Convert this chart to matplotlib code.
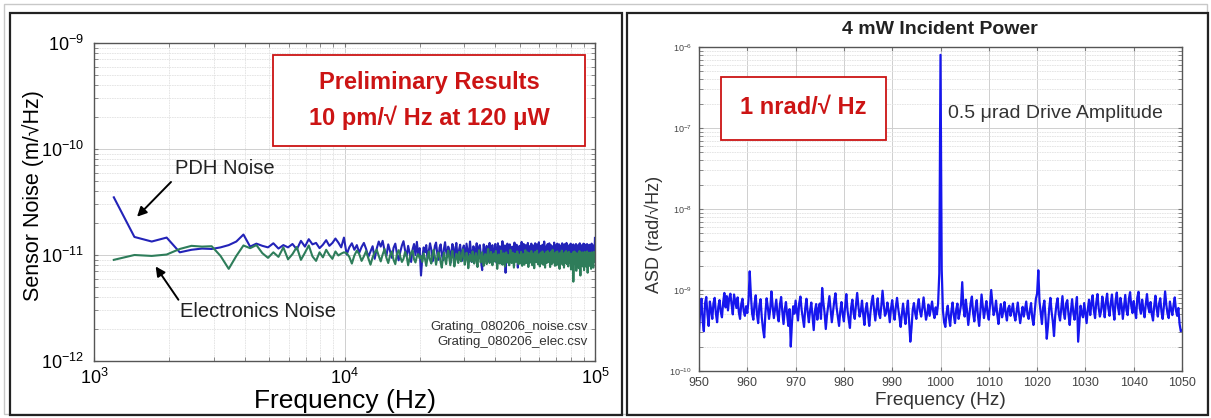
import numpy as np
import matplotlib
matplotlib.use('Agg')
from matplotlib import pyplot as plt
from matplotlib.patches import Rectangle
from matplotlib.ticker import LogLocator, FixedLocator, NullFormatter

plt.rcParams['font.family'] = ['Liberation Sans', 'DejaVu Sans']
plt.rcParams['mathtext.fontset'] = 'custom'
plt.rcParams['mathtext.rm'] = 'Liberation Sans'
plt.rcParams['mathtext.it'] = 'Liberation Sans:italic'
plt.rcParams['mathtext.bf'] = 'Liberation Sans:bold'

W, H = 1211, 418

# ---- left panel data: sensor noise in pm/rtHz on a 250 Hz bin grid ----
freq_left = np.arange(1200, 100000, 250)

pdh_noise_pm = [
    35.0, 14.8, 13.4, 14.6, 10.6, 11.2, 11.5, 11.4, 11.8, 12.4,
    13.4, 15.6, 12.0, 12.8, 12.2, 11.8, 12.9, 11.5, 12.4, 11.8,
    12.7, 11.3, 13.6, 12.0, 14.1, 12.6, 13.0, 11.6, 12.5, 13.8,
    12.2, 13.0, 14.3, 13.1, 11.8, 14.6,
    10.1, 11.8, 12.9, 11.2, 12.4, 10.5, 11.9, 13.0, 11.4, 9.6, 10.8, 12.1, 9.2, 11.5, 13.4, 12.0, 13.6, 11.0, 9.8, 12.6,
    10.9, 9.4, 11.7, 12.8, 10.2, 8.9, 10.7, 12.3, 13.5, 11.1, 9.7, 12.2, 10.4, 8.6, 11.3, 12.7, 10.0, 13.3, 9.9, 11.6,
    6.4, 9.5, 11.8, 10.6, 12.4, 9.2, 10.9, 12.9, 11.3, 8.7, 10.1, 12.2, 13.1, 10.4, 9.0, 11.7, 12.6, 10.2, 8.9, 11.5,
    13.2, 10.8, 9.6, 12.0, 11.1, 8.4, 10.5, 12.7, 11.9, 9.3, 10.7, 13.0, 10.3, 9.1, 11.4, 12.5, 10.0, 8.8, 11.6, 12.3,
    10.6, 9.4, 12.8, 11.2, 9.8, 10.9, 13.4, 11.0, 8.6, 10.4, 12.1, 11.5, 9.7, 10.8, 12.9, 10.1, 9.2, 11.9, 12.4, 10.5,
    8.1, 7.2, 10.2, 12.6, 11.0, 9.5, 10.7, 12.2, 9.9, 8.7, 11.3, 13.0, 10.6, 9.0, 11.8, 12.4, 10.3, 9.6, 11.1, 12.7,
    10.0, 8.5, 11.4, 12.9, 10.8, 9.3, 12.1, 11.6, 9.8, 10.5, 13.5, 11.2, 9.4, 10.9, 12.3, 6.8, 8.9, 11.7, 12.8, 10.2,
    9.7, 11.3, 12.6, 10.1, 8.8, 10.6, 12.0, 11.4, 9.2, 10.8, 13.1, 10.7, 9.5, 11.9, 12.5, 10.0, 7.6, 9.9, 11.6, 12.2,
    10.5, 9.1, 11.8, 13.3, 10.9, 9.6, 11.2, 12.7, 10.3, 8.6, 10.7, 12.4, 11.5, 9.4, 10.8, 13.0, 11.1, 9.8, 12.1, 10.6,
    9.0, 11.4, 12.8, 10.4, 9.3, 11.7, 12.3, 10.1, 8.9, 11.0, 12.9, 11.6, 9.7, 10.5, 12.6, 10.8, 9.2, 11.3, 13.2, 10.7,
    9.5, 10.9, 12.2, 11.1, 8.7, 10.3, 12.5, 11.8, 9.6, 10.6, 13.4, 11.2, 9.9, 10.4, 12.0, 11.5, 9.1, 10.7, 12.7, 10.2,
    8.8, 11.6, 12.9, 10.5, 9.4, 11.0, 12.4, 10.9, 9.0, 10.8, 12.1, 11.3, 9.7, 10.6, 13.1, 11.7, 9.3, 10.1, 12.3, 11.0,
    9.8, 10.7, 12.8, 11.4, 9.2, 10.3, 11.9, 12.6, 10.0, 8.9, 11.5, 12.2, 10.6, 9.5, 11.1, 12.9, 10.4, 9.6, 11.8, 12.5,
    10.2, 9.0, 11.3, 12.7, 10.8, 9.4, 10.9, 13.0, 11.6, 9.7, 10.5, 12.1, 11.2, 8.8, 10.6, 12.4, 11.0, 9.3, 11.7, 12.8,
    10.1, 9.5, 11.4, 12.3, 10.7, 9.1, 11.0, 12.6, 11.5, 9.8, 10.4, 12.0, 11.3, 9.6, 10.8, 12.7, 10.9, 9.2, 11.6, 12.2,
    10.3, 9.4, 11.9, 12.5, 10.6, 9.0, 11.2, 12.9, 10.0, 9.7, 11.1, 12.4, 10.5, 9.3, 11.8, 12.1, 10.2, 9.9, 11.5, 12.8,
    10.4, 9.2, 11.0, 12.6, 10.9, 9.6, 11.7, 12.3, 10.1, 9.5, 11.3, 12.7, 10.6, 9.1, 11.4, 12.0, 10.8, 9.8, 11.2, 12.5,
    10.0, 9.4, 11.6, 12.2, 10.7, 9.3, 11.9, 12.8, 10.3, 9.7, 11.1, 12.4, 10.5, 9.0, 11.5, 12.1, 10.9, 9.6, 12.0, 14.5,
]

elec_noise_pm = [
    9.0, 10.0, 9.8, 10.1, 11.4, 12.2, 12.0, 12.1, 9.8, 7.4,
    9.8, 12.3, 11.6, 12.4, 10.4, 9.4, 10.6, 9.6, 11.8, 9.1,
    10.2, 11.9, 9.0, 10.5, 12.3, 9.7, 8.8, 10.6, 9.5, 11.2,
    10.0, 9.2, 10.8, 9.9, 10.3, 10.6,
    10.4, 9.6, 8.3, 9.9, 11.0, 10.2, 8.8, 9.7, 10.9, 9.3, 8.1, 9.5, 10.6, 11.2, 9.8, 8.7, 10.1, 11.4, 9.4, 8.4,
    9.9, 10.8, 9.0, 8.2, 10.3, 11.1, 9.6, 8.6, 9.2, 10.7, 9.8, 8.0, 9.4, 10.5, 11.0, 9.1, 8.5, 9.7, 10.2, 9.3,
    9.8, 8.6, 10.4, 9.2, 7.9, 9.5, 10.8, 9.0, 8.3, 10.1, 11.2, 9.6, 8.1, 9.4, 10.6, 9.9, 8.5, 7.6, 9.3, 10.5,
    9.1, 8.2, 10.0, 11.0, 9.4, 8.0, 9.7, 10.9, 9.3, 7.8, 8.8, 10.3, 9.6, 8.4, 10.7, 9.2, 8.7, 10.2, 11.3, 9.5,
    8.1, 9.0, 10.5, 9.8, 7.5, 8.9, 10.1, 9.4, 8.6, 10.8, 9.7, 8.3, 9.2, 10.4, 9.0, 7.7, 9.6, 11.1, 9.9, 8.5,
    9.3, 10.6, 8.8, 7.9, 9.5, 10.2, 9.1, 8.2, 10.0, 11.4, 9.7, 8.4, 9.0, 10.7, 9.4, 8.0, 9.8, 10.3, 8.7, 9.6,
    10.9, 9.2, 7.4, 8.6, 10.1, 9.5, 8.3, 9.9, 11.0, 9.3, 8.1, 9.7, 10.4, 8.9, 7.8, 9.4, 10.6, 9.6, 8.5, 10.0,
    9.1, 8.0, 9.8, 11.2, 9.6, 8.4, 9.3, 10.5, 9.0, 7.6, 8.8, 10.3, 9.9, 8.6, 9.5, 10.8, 9.2, 8.2, 10.1, 9.7,
    8.3, 9.4, 10.7, 9.0, 7.9, 9.6, 10.2, 8.7, 8.1, 10.0, 11.1, 9.5, 8.4, 9.1, 10.6, 9.3, 7.7, 8.9, 10.4, 9.8,
    8.5, 9.7, 10.9, 9.2, 8.0, 9.4, 10.3, 8.8, 7.5, 9.0, 10.7, 9.9, 8.6, 9.5, 11.0, 9.3, 8.2, 9.8, 10.1, 8.9,
    7.8, 9.2, 10.5, 9.6, 8.3, 9.0, 10.8, 9.4, 8.1, 9.7, 10.2, 8.7, 7.6, 9.3, 10.6, 9.9, 8.4, 9.1, 10.9, 9.5,
    8.6, 9.8, 10.4, 8.9, 7.7, 9.2, 10.7, 9.6, 8.2, 9.4, 11.2, 9.7, 8.5, 9.0, 10.3, 9.1, 7.9, 9.5, 10.6, 9.3,
    8.0, 9.6, 10.8, 9.2, 8.3, 9.9, 10.1, 8.8, 7.4, 9.3, 10.5, 9.7, 8.6, 9.1, 11.0, 9.4, 8.1, 9.8, 10.2, 8.7,
    7.6, 9.0, 10.6, 9.5, 8.4, 9.3, 10.9, 9.8, 8.2, 8.9, 10.4, 9.2, 7.8, 9.6, 10.7, 9.0, 8.5, 9.4, 10.3, 9.1,
    7.3, 8.8, 10.2, 9.7, 8.0, 9.5, 10.6, 5.6, 7.9, 9.2, 10.8, 9.4, 8.3, 8.7, 10.5, 9.6, 7.1, 8.6, 10.0, 9.3,
    8.1, 9.7, 10.4, 8.9, 7.5, 9.0, 10.9, 9.5, 8.2, 6.4, 8.8, 10.3, 9.6, 8.4, 9.1, 10.6, 9.2, 7.8, 9.4, 10.1,
    8.7, 7.2, 9.3, 10.7, 9.0, 8.3, 9.8, 10.2, 8.6, 7.7, 9.5, 10.8, 9.1, 6.8, 8.5, 10.4, 9.7, 8.0, 9.2, 10.5,
    9.0, 7.9, 9.6, 10.3, 8.8, 7.4, 9.3, 10.6, 9.1, 8.2, 9.9, 10.1, 8.4, 7.6, 9.4, 10.7, 9.2, 8.6, 9.8, 10.0,
]

# ---- right panel data: angular ASD in 1e-10 rad/rtHz on a 0.25 Hz grid ----
freq_right = np.arange(950, 1050.01, 0.25)

asd_1e10 = [
    3.0, 5.5, 7.8, 4.2, 3.1, 6.8, 8.2, 5.0, 3.6, 7.2, 5.8, 4.4, 6.9, 8.0, 5.1, 4.0, 6.2, 7.5, 5.4, 4.6,
    7.0, 9.2, 6.1, 8.4, 5.6, 7.9, 9.0, 6.6, 5.0, 8.8, 7.2, 6.0, 8.1, 5.3, 4.4, 6.7, 7.8, 5.5, 4.8, 6.3,
    5.2, 7.4, 17.0, 8.5, 5.1, 4.3, 6.8, 8.6, 5.0, 3.9, 6.4, 7.7, 4.6, 3.3, 2.6, 5.2, 7.9, 6.1, 4.4, 5.8,
    9.6, 6.3, 4.5, 5.9, 7.6, 5.0, 4.1, 6.6, 8.2, 5.4, 3.8, 5.7, 7.1, 4.9, 3.6, 5.8, 2.0, 4.0, 6.3, 5.1,
    7.4, 5.6, 4.2, 6.9, 8.3, 5.7, 4.5, 3.5, 6.0, 7.8, 5.3, 4.0, 5.6, 7.0, 4.8, 3.2, 5.5, 6.7, 4.3, 5.9,
    6.8, 4.4, 10.6, 7.0, 5.2, 3.3, 4.9, 6.5, 8.4, 5.8, 4.0, 5.4, 7.3, 9.1, 6.0, 4.6, 3.6, 5.5, 7.1, 5.0,
    4.1, 6.2, 8.9, 5.6, 4.3, 3.4, 6.1, 7.6, 5.2, 4.4, 6.6, 9.2, 6.3, 4.7, 5.5, 7.4, 5.0, 3.7, 5.8, 6.9,
    4.9, 3.6, 5.3, 7.2, 8.5, 5.7, 4.2, 6.0, 7.9, 5.1, 4.5, 6.4, 9.8, 6.6, 4.8, 5.2, 7.0, 5.6, 4.0, 5.9,
    7.5, 5.4, 4.3, 6.2, 8.0, 5.9, 4.6, 3.5, 5.0, 6.8, 4.9, 3.8, 5.6, 7.4, 4.2, 2.3, 3.4, 5.7, 6.9, 5.2,
    4.4, 6.3, 7.7, 5.5, 4.7, 6.0, 8.1, 5.8, 4.3, 5.1, 6.6, 4.8, 5.9, 7.2, 5.4, 4.5, 6.1, 5.0, 6.8, 16.0,
    8000.0, 18.0, 5.6, 4.0, 3.5, 5.2, 6.4, 4.6, 3.6, 5.5, 7.0, 4.9, 3.9, 5.7, 6.8, 4.4, 5.3, 6.6, 12.5, 6.0,
    4.7, 7.6, 5.5, 3.7, 5.0, 6.9, 8.3, 5.2, 4.1, 6.0, 7.5, 4.8, 3.6, 5.4, 8.8, 6.2, 4.5, 5.8, 7.3, 5.1,
    4.3, 6.5, 10.0, 6.8, 4.9, 5.6, 7.4, 5.0, 3.8, 5.3, 6.7, 4.6, 5.5, 7.1, 5.2, 4.2, 5.9, 6.4, 4.8, 5.6,
    6.8, 4.9, 4.2, 5.4, 7.0, 5.1, 3.9, 5.0, 6.2, 4.7, 5.8, 7.2, 5.0, 4.4, 5.6, 6.9, 4.5, 3.7, 5.3, 7.8,
    9.0, 17.5, 7.2, 5.3, 3.8, 6.1, 7.4, 4.6, 2.5, 3.6, 5.9, 8.0, 5.4, 4.1, 2.7, 4.8, 6.6, 7.9, 5.0, 4.2,
    6.0, 8.4, 5.3, 4.4, 6.8, 7.5, 5.0, 3.7, 5.5, 7.7, 5.2, 4.3, 6.1, 8.2, 2.3, 3.8, 6.4, 5.1, 4.6, 6.9,
    5.2, 3.9, 5.8, 7.6, 4.9, 6.8, 8.6, 5.6, 4.5, 7.0, 8.9, 6.0, 4.7, 5.5, 8.3, 6.4, 4.6, 7.2, 9.0, 5.9,
    4.8, 6.9, 8.8, 5.7, 4.3, 7.4, 9.3, 6.1, 5.0, 8.0, 6.5, 4.4, 6.2, 8.7, 5.6, 4.9, 7.7, 9.4, 6.3, 5.2,
    7.3, 5.5, 4.5, 8.1, 9.5, 6.0, 5.1, 7.6, 5.8, 4.6, 6.7, 8.9, 6.2, 5.3, 7.1, 5.0, 4.2, 6.4, 8.5, 5.9,
    4.7, 6.8, 7.9, 5.4, 4.4, 6.3, 9.6, 6.6, 5.1, 4.5, 7.2, 5.8, 4.9, 6.5, 8.1, 5.6, 4.8, 6.0, 3.8, 3.1,
    3.2,
]

assert len(pdh_noise_pm) == len(freq_left), len(pdh_noise_pm)
assert len(elec_noise_pm) == len(freq_left), len(elec_noise_pm)
assert len(asd_1e10) == len(freq_right), len(asd_1e10)

pdh_noise = np.array(pdh_noise_pm) * 1e-12
elec_noise = np.array(elec_noise_pm) * 1e-12
asd = np.array(asd_1e10) * 1e-10

BOX_RED = '#cc1414'


def frac(x, y):
    # image pixel -> figure fraction
    return x / W, 1 - y / H


def style_grid(ax):
    ax.grid(True, which='major', color='#cfcfcf', lw=0.7, ls='-')
    ax.grid(True, which='minor', color='#e2e2e2', lw=0.6, ls=(0, (2, 1)))
    ax.set_axisbelow(True)
    for s in ax.spines.values():
        s.set_color('#555555')
        s.set_linewidth(1.0)


fig = plt.figure(figsize=(W / 100, H / 100), dpi=100)

# panel frames
fig.patches.append(Rectangle(frac(4, 414), 1203 / W, 410 / H, transform=fig.transFigure,
                             fill=False, ec='#c8c8c8', lw=1.0, zorder=-5))
fig.patches.append(Rectangle(frac(10, 415), 612 / W, 402 / H, transform=fig.transFigure,
                             fill=False, ec='#222222', lw=1.6, zorder=-4))
fig.patches.append(Rectangle(frac(627, 415), 581 / W, 402 / H, transform=fig.transFigure,
                             fill=False, ec='#222222', lw=1.6, zorder=-4))

# ---- left: sensor noise ----
ax1 = fig.add_axes([94 / W, 1 - 361 / H, 501 / W, 318 / H])
ax1.loglog(freq_left, pdh_noise, color='#2323b8', lw=1.5)
ax1.loglog(freq_left, elec_noise, color='#2e7d5a', lw=1.5)
ax1.set_xlim(1e3, 1e5)
ax1.set_ylim(1e-12, 1e-9)
ax1.yaxis.set_major_locator(LogLocator(base=10, numticks=10))
ax1.yaxis.set_minor_locator(LogLocator(base=10, subs=np.arange(2, 10), numticks=20))
ax1.yaxis.set_minor_formatter(NullFormatter())
ax1.xaxis.set_minor_formatter(NullFormatter())
ax1.tick_params(which='both', direction='in', top=True, right=True, length=3, color='#777777')
ax1.tick_params(which='major', labelsize=13, pad=7)
ax1.tick_params(axis='x', which='major', pad=5)
style_grid(ax1)
ax1.set_xlabel('Frequency (Hz)', fontsize=19)
ax1.xaxis.set_label_coords(0.5, -0.088)
ax1.set_ylabel('Sensor Noise (m/\u221aHz)', fontsize=15.5)
ax1.yaxis.set_label_coords(-0.1, 0.52)

ax1.annotate('', xy=(1459, 2.2e-11), xytext=(2066, 5.1e-11),
             arrowprops=dict(arrowstyle='-|>', color='black', lw=1.4, mutation_scale=14))
ax1.annotate('', xy=(1737, 8.2e-12), xytext=(2204, 3.6e-12),
             arrowprops=dict(arrowstyle='-|>', color='black', lw=1.4, mutation_scale=14))
ax1.text(2105, 6.6e-11, 'PDH Noise', fontsize=14.5, color='#222222', ha='left', va='center')
ax1.text(2204, 2.9e-12, 'Electronics Noise', fontsize=14.5, color='#222222', ha='left', va='center')
ax1.text(0.986, 0.107, 'Grating_080206_noise.csv', transform=ax1.transAxes, fontsize=9.5,
         color='#333333', ha='right', va='center')
ax1.text(0.986, 0.06, 'Grating_080206_elec.csv', transform=ax1.transAxes, fontsize=9.5,
         color='#333333', ha='right', va='center')

fig.patches.append(Rectangle(frac(273, 146), 312 / W, 91 / H, transform=fig.transFigure,
                             fc='white', ec=BOX_RED, lw=1.3, zorder=2))
fig.text(*frac(429, 82), 'Preliminary Results', fontsize=17, fontweight='bold',
         color=BOX_RED, ha='center', va='center', zorder=3)
fig.text(*frac(429, 118), '10 pm/\u221a Hz at 120 \u03bcW', fontsize=17, fontweight='bold',
         color=BOX_RED, ha='center', va='center', zorder=3)

# ---- right: angular ASD ----
ax2 = fig.add_axes([699 / W, 1 - 371 / H, 483 / W, 324 / H])
ax2.semilogy(freq_right, asd, color='#1616ee', lw=1.6)
ax2.set_xlim(950, 1050)
ax2.set_ylim(1e-10, 1e-6)
ax2.xaxis.set_major_locator(FixedLocator(np.arange(950, 1051, 10)))
ax2.yaxis.set_major_locator(LogLocator(base=10, numticks=10))
ax2.yaxis.set_minor_locator(LogLocator(base=10, subs=np.arange(2, 10), numticks=20))
ax2.yaxis.set_minor_formatter(NullFormatter())
ax2.tick_params(which='both', direction='in', top=True, right=True, length=3, color='#777777')
ax2.tick_params(axis='x', which='major', labelsize=9, pad=4, labelcolor='#444444')
ax2.tick_params(axis='y', which='major', labelsize=6.5, pad=5, labelcolor='#444444')
style_grid(ax2)
ax2.set_xlabel('Frequency (Hz)', fontsize=13.7, color='#333333')
ax2.xaxis.set_label_coords(0.5, -0.065)
ax2.set_ylabel('ASD (rad/\u221aHz)', fontsize=13, color='#333333')
ax2.yaxis.set_label_coords(-0.075, 0.42)
fig.text(*frac(940, 30), '4 mW Incident Power', fontsize=14, fontweight='bold',
         color='#222222', ha='center', va='center')
ax2.text(1001.5, 1.53e-7, '0.5 \u03bcrad Drive Amplitude', fontsize=14, color='#333333',
         ha='left', va='center')

fig.patches.append(Rectangle(frac(721, 140), 165 / W, 63 / H, transform=fig.transFigure,
                             fc='white', ec=BOX_RED, lw=1.3, zorder=2))
fig.text(*frac(803, 108), '1 nrad/\u221a Hz', fontsize=17, fontweight='bold',
         color=BOX_RED, ha='center', va='center', zorder=3)

fig.savefig('out.png', dpi=100, facecolor='white')
